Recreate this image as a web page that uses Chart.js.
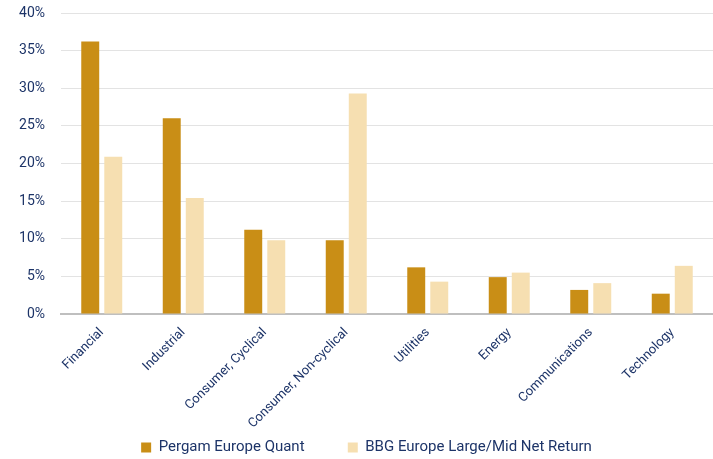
<!DOCTYPE html>
<html>
<head>
<meta charset="utf-8">
<script src="https://cdn.jsdelivr.net/npm/chart.js@4"></script>
<style>
  html, body { margin: 0; padding: 0; background: #fff; }
  #wrap { width: 713px; height: 459px; }
</style>
</head>
<body>
<div id="wrap"><canvas id="chart"></canvas></div>
<script>
// Data
const sectors = ['Financial', 'Industrial', 'Consumer, Cyclical', 'Consumer, Non-cyclical',
  'Utilities', 'Energy', 'Communications', 'Technology'];
const pergamQuant = [36.2, 26.0, 11.2, 9.8, 6.2, 4.9, 3.2, 2.7];
const bbgEurope = [20.9, 15.4, 9.8, 29.3, 4.3, 5.5, 4.1, 6.4];

const NAVY = '#1d3468';

Chart.defaults.font.family = 'Roboto, sans-serif';
Chart.defaults.color = NAVY;

// nudge the legend a little right and down to where the original sits
const legendNudge = {
  id: 'legendNudge',
  afterUpdate(chart) {
    const lg = chart.legend;
    lg.left += 10; lg.right += 10;
    lg.top += 6; lg.bottom += 6;
    lg.adjustHitBoxes();
  }
};

new Chart(document.getElementById('chart'), {
  type: 'bar',
  data: {
    labels: sectors,
    datasets: [
      {
        label: 'Pergam Europe Quant',
        data: pergamQuant,
        backgroundColor: '#c98e16',
        barPercentage: 0.78,
        categoryPercentage: 0.565
      },
      {
        label: 'BBG Europe Large/Mid Net Return',
        data: bbgEurope,
        backgroundColor: '#f6dfb1',
        barPercentage: 0.78,
        categoryPercentage: 0.565
      }
    ]
  },
  options: {
    responsive: true,
    maintainAspectRatio: false,
    animation: false,
    layout: { padding: { top: 0, right: 0, left: 0, bottom: 0 } },
    plugins: {
      legend: {
        position: 'bottom',
        labels: {
          boxWidth: 10,
          boxHeight: 10,
          padding: 6,
          font: { size: 15 },
          color: NAVY,
          // extra trailing spaces widen the gap between the two items
          generateLabels: chart => {
            const items = Chart.defaults.plugins.legend.labels.generateLabels(chart);
            items[0].text = items[0].text + '          ';
            return items;
          }
        }
      },
      tooltip: { enabled: false }
    },
    scales: {
      x: {
        grid: { display: false },
        border: { color: '#bfbfbf', width: 2 },
        ticks: {
          minRotation: 45,
          maxRotation: 45,
          autoSkip: false,
          font: { size: 13 },
          color: NAVY
        },
        afterFit: s => { s.height = 114; }
      },
      y: {
        min: 0,
        max: 40,
        ticks: {
          stepSize: 5,
          padding: 16,
          font: { size: 14 },
          color: NAVY,
          callback: v => v + '%'
        },
        grid: { color: '#e3e3e3', drawTicks: false },
        border: { display: false },
        afterFit: s => {
          s.width = 61;
          s.paddingTop = 13;
          s.paddingBottom = 0;
        }
      }
    }
  },
  plugins: [legendNudge]
});
</script>
</body>
</html>
